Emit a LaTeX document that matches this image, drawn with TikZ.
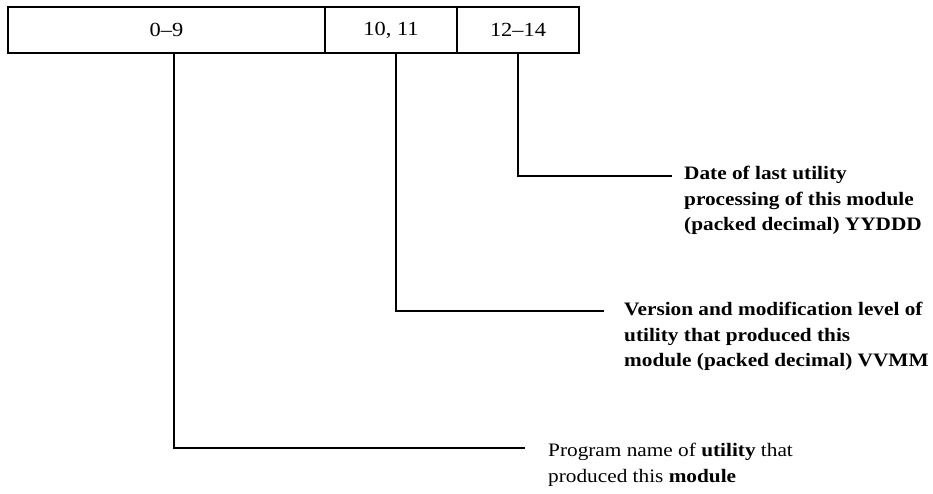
\documentclass[tikz,border=0pt]{standalone}
\usepackage{fontspec}
\setmainfont[FakeStretch=1.12]{Liberation Serif}
\begin{document}
\begin{tikzpicture}[x=1pt,y=-1pt,
  field/.style={draw, line width=2pt, minimum height=46pt, inner sep=0pt,
    font=\fontsize{20}{22}\selectfont},
  lbl/.style={anchor=north west, align=left, inner sep=0pt,
    font=\fontsize{19}{25.5}\selectfont\bfseries},
  plainlbl/.style={lbl, font=\fontsize{19}{26}\selectfont},
  conn/.style={line width=2pt}]
\useasboundingbox (0,0) rectangle (933,493);
% record fields
\node[field, minimum width=317pt] (f0) at (166.5,30) {0–9};
\node[field, minimum width=132pt] (f1) at (391,30) {10, 11};
\node[field, minimum width=122pt] (f2) at (518,30) {12–14};
% labels
\node[lbl] (l2) at (684,166) {Date of last utility\\processing of this module\\(packed decimal) YYDDD};
\node[lbl] (l1) at (624,302) {Version and modification level of\\utility that produced this\\module (packed decimal) VVMM};
\node[plainlbl] (l0) at (548,443) {Program name of \textbf{utility} that\\produced this \textbf{module}};
% connector ends
\coordinate (e2) at (672,176);
\coordinate (e1) at (604,311);
\coordinate (e0) at (525,448);
\draw[conn] (f2.south) |- (e2);
\draw[conn] ([xshift=5pt]f1.south) |- (e1);
\draw[conn] ([xshift=7.5pt]f0.south) |- (e0);
\end{tikzpicture}
\end{document}
